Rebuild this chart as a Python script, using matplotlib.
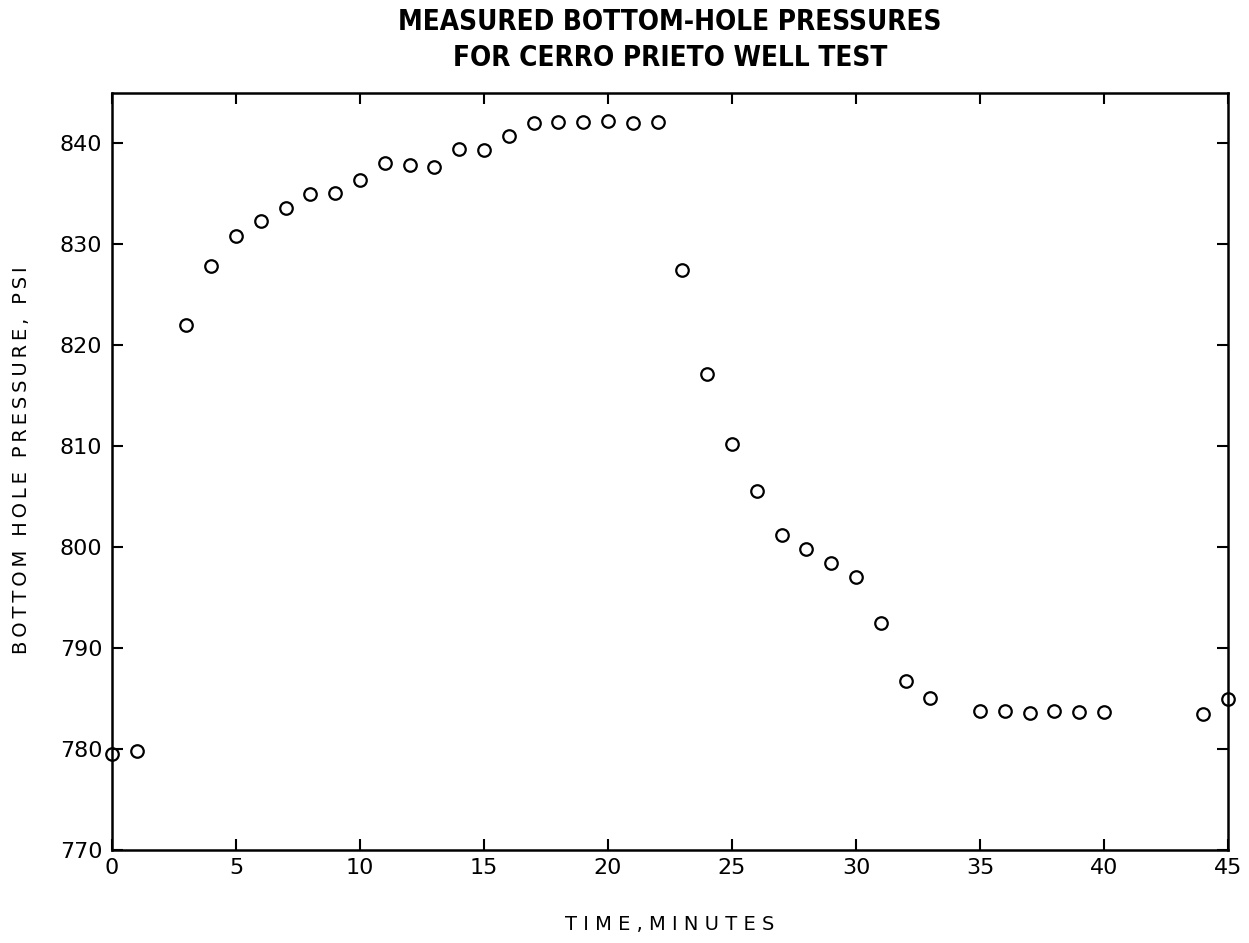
import numpy as np
import matplotlib
matplotlib.use('Agg')
import matplotlib.pyplot as plt

# bottom-hole pressure readings, one per minute (no reading at 2, 34, 41-43)
minutes = [0, 1, 3, 4, 5, 6, 7, 8, 9, 10, 11, 12, 13, 14, 15, 16, 17, 18, 19, 20, 21, 22,
           23, 24, 25, 26, 27, 28, 29, 30, 31, 32, 33, 35, 36, 37, 38, 39, 40, 44, 45]
pressure = [779.5, 779.8, 822.0, 827.9, 830.8, 832.3, 833.6, 835.0, 835.1, 836.4, 838.1,
            837.9, 837.7, 839.5, 839.4, 840.7, 842.0, 842.1, 842.1, 842.2, 842.0, 842.1,
            827.5, 817.2, 810.2, 805.6, 801.2, 799.8, 798.4, 797.0, 792.5, 786.7, 785.1,
            783.8, 783.8, 783.6, 783.8, 783.7, 783.7, 783.5, 785.0]

x_ticks = [0, 5, 10, 15, 20, 25, 30, 35, 40, 45]
y_ticks = [770, 780, 790, 800, 810, 820, 830, 840]

title = 'MEASURED BOTTOM-HOLE PRESSURES\nFOR CERRO PRIETO WELL TEST'
ylabel = 'BOTTOM HOLE PRESSURE, PSI'

plt.rcParams['font.family'] = ['DejaVu Sans']

fig = plt.figure(figsize=(12.49, 9.43), dpi=100)
ax = fig.add_axes([112 / 1249, 1 - 850 / 943, (1228 - 112) / 1249, (850 - 93) / 943])

ax.plot(minutes, pressure, linestyle='none', marker='o', markersize=9,
        markerfacecolor='none', markeredgecolor='black', markeredgewidth=1.6,
        clip_on=False)

ax.set_xlim(0, 45)
ax.set_ylim(770, 845)
ax.set_xticks(x_ticks)
ax.set_yticks(y_ticks)
ax.tick_params(direction='in', top=True, right=True, length=8, width=1.5,
               labelsize=16, pad=6)
ax.tick_params(axis='y', pad=7)
for sp in ax.spines.values():
    sp.set_linewidth(1.8)

# letter-spaced axis titles
def spaced(s, gap='\u2009'):
    return gap.join(s)

fig.text(22 / 1249, 1 - 460 / 943, spaced(ylabel), rotation=90, ha='center',
         va='center', fontsize=14)
fig.text(670 / 1249, 1 - 925 / 943, spaced('TIME', ' ') + ' , ' + spaced('MINUTES', ' '),
         ha='center', va='center', fontsize=14)

fig.text(670 / 1249, 1 - 40 / 943, title, ha='center', va='center', fontsize=20,
         fontweight='bold', fontstretch='condensed', linespacing=1.35)

fig.savefig('out.png', dpi=100, facecolor='white')
